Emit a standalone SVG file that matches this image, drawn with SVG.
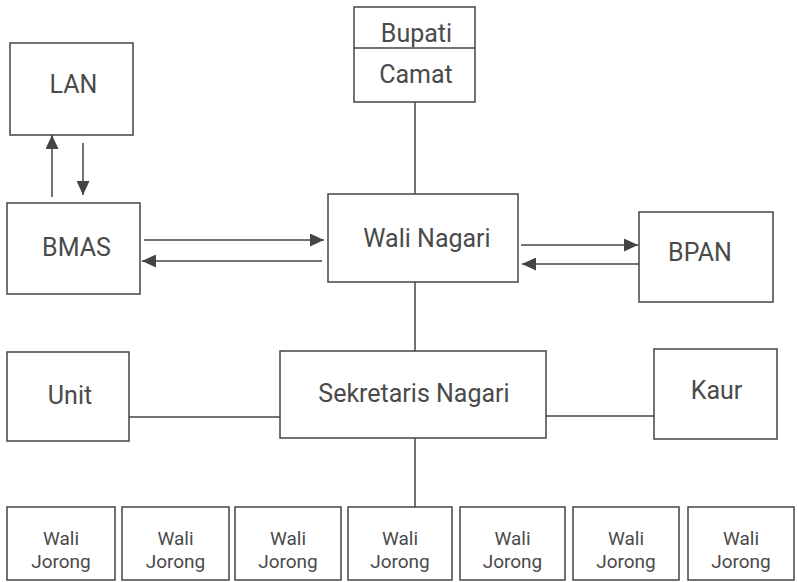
<svg xmlns="http://www.w3.org/2000/svg" width="797" height="582" viewBox="0 0 797 582">
<style>
.box{fill:#fff;stroke:#444;stroke-width:1.5}
.ln{stroke:#444;stroke-width:1.5;fill:none}
.t{font-family:Roboto,"Liberation Sans",sans-serif;font-size:25px;fill:#4a4a4a;text-anchor:middle}
.s{font-family:Roboto,"Liberation Sans",sans-serif;font-size:19px;fill:#4a4a4a;text-anchor:middle}
</style>
<defs>
<marker id="ah" markerWidth="14" markerHeight="13" refX="14" refY="6.5" orient="auto" markerUnits="userSpaceOnUse">
<path d="M0,0 L14,6.5 L0,13 Z" fill="#444"/>
</marker>
</defs>
<rect width="797" height="582" fill="#fff"/>
<g id="connectors">
<line class="ln" x1="415" y1="102" x2="415" y2="194"/>
<line class="ln" x1="415" y1="282" x2="415" y2="351"/>
<line class="ln" x1="415" y1="438" x2="415" y2="507"/>
<line class="ln" x1="129" y1="417" x2="280" y2="417"/>
<line class="ln" x1="546" y1="416" x2="654" y2="416"/>
<line class="ln" x1="52" y1="197" x2="52" y2="135" marker-end="url(#ah)"/>
<line class="ln" x1="83" y1="143" x2="83" y2="195" marker-end="url(#ah)"/>
<line class="ln" x1="144" y1="240" x2="324" y2="240" marker-end="url(#ah)"/>
<line class="ln" x1="322" y1="261" x2="142" y2="261" marker-end="url(#ah)"/>
<line class="ln" x1="521" y1="245" x2="638" y2="245" marker-end="url(#ah)"/>
<line class="ln" x1="639" y1="264" x2="522" y2="264" marker-end="url(#ah)"/>
</g>
<g id="lan"><rect class="box" x="10" y="43" width="123" height="92"/><text class="t" x="73.5" y="93">LAN</text></g>
<g id="bmas"><rect class="box" x="7" y="203" width="133" height="91"/><text class="t" x="76.5" y="256">BMAS</text></g>
<g id="bupati-camat"><rect class="box" x="354" y="7" width="121" height="95"/><line class="ln" x1="354" y1="48" x2="475" y2="48"/><text class="t" x="416.5" y="42">Bupati</text><text class="t" x="416" y="83">Camat</text></g>
<g id="wali-nagari"><rect class="box" x="328" y="194" width="190" height="88"/><text class="t" x="427" y="247">Wali Nagari</text></g>
<g id="bpan"><rect class="box" x="639" y="212" width="134" height="90"/><text class="t" x="700" y="261">BPAN</text></g>
<g id="unit"><rect class="box" x="7" y="352" width="122" height="89"/><text class="t" x="70" y="404">Unit</text></g>
<g id="sekretaris"><rect class="box" x="280" y="351" width="266" height="87"/><text class="t" x="414" y="402">Sekretaris Nagari</text></g>
<g id="kaur"><rect class="box" x="654" y="349" width="123" height="90"/><text class="t" x="716.5" y="399">Kaur</text></g>
<g id="wj1"><rect class="box" x="7" y="507" width="108" height="73"/><text class="s" x="61" y="545">Wali</text><text class="s" x="61" y="568">Jorong</text></g>
<g id="wj2"><rect class="box" x="122" y="507" width="107" height="73"/><text class="s" x="175.5" y="545">Wali</text><text class="s" x="175.5" y="568">Jorong</text></g>
<g id="wj3"><rect class="box" x="235" y="507" width="106" height="73"/><text class="s" x="288" y="545">Wali</text><text class="s" x="288" y="568">Jorong</text></g>
<g id="wj4"><rect class="box" x="348" y="507" width="104" height="73"/><text class="s" x="400" y="545">Wali</text><text class="s" x="400" y="568">Jorong</text></g>
<g id="wj5"><rect class="box" x="460" y="507" width="105" height="73"/><text class="s" x="512.5" y="545">Wali</text><text class="s" x="512.5" y="568">Jorong</text></g>
<g id="wj6"><rect class="box" x="573" y="507" width="106" height="73"/><text class="s" x="626" y="545">Wali</text><text class="s" x="626" y="568">Jorong</text></g>
<g id="wj7"><rect class="box" x="688" y="507" width="106" height="73"/><text class="s" x="741" y="545">Wali</text><text class="s" x="741" y="568">Jorong</text></g>
</svg>
